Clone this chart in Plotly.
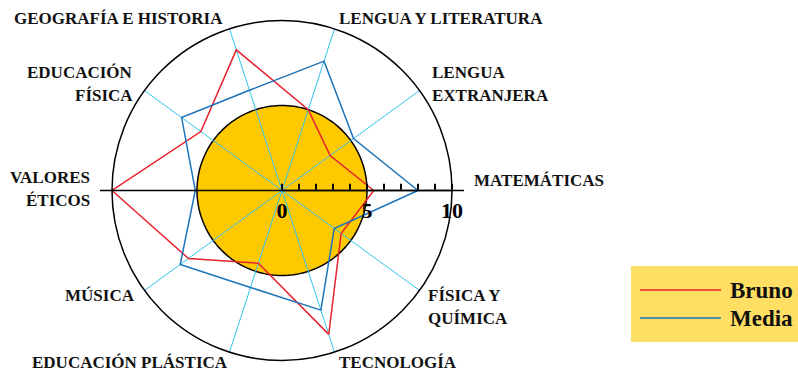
import plotly.graph_objects as go

# subjects, counterclockwise starting at the right (east)
subjects = ['MATEMÁTICAS', 'LENGUA EXTRANJERA', 'LENGUA Y LITERATURA',
            'GEOGRAFÍA E HISTORIA', 'EDUCACIÓN FÍSICA', 'VALORES ÉTICOS',
            'MÚSICA', 'EDUCACIÓN PLÁSTICA', 'TECNOLOGÍA', 'FÍSICA Y QUÍMICA']
bruno = [5.4, 3.5, 5.0, 8.7, 5.9, 10.0, 6.8, 4.5, 8.9, 4.3]
media = [8.0, 5.2, 8.0, 6.2, 7.3, 5.1, 7.4, 6.0, 7.4, 3.8]
pass_mark = 5
r_max = 10
radial_ticks = list(range(0, 11))
radial_labels = ['0', '', '', '', '', '5', '', '', '', '', '10']

W, H = 798, 374
CX, CY, R = 282, 190.5, 170
SERIF = 'Liberation Serif'
RED = '#E8232E'
BLUE = '#1C74BA'
CYAN = '#33C3EE'

angles = [i * 360 / len(subjects) for i in range(len(subjects))]


def px(x):
    return x / W


def py(y):
    return 1 - y / H


fig = go.Figure()

# yellow disc at the pass mark
circle_theta = list(range(0, 361, 2))
fig.add_trace(go.Scatterpolar(
    r=[pass_mark] * len(circle_theta), theta=circle_theta,
    mode='lines', fill='toself', fillcolor='#FFC900',
    line=dict(color='black', width=1.5), hoverinfo='skip', showlegend=False))

# spokes, drawn above the disc
spoke_r, spoke_t = [], []
for a in angles:
    spoke_r += [0, r_max, None]
    spoke_t += [a, a, None]
fig.add_trace(go.Scatterpolar(
    r=spoke_r, theta=spoke_t, mode='lines',
    line=dict(color=CYAN, width=1), hoverinfo='skip', showlegend=False))

for name, vals, col in [('Bruno', bruno, RED), ('Media', media, BLUE)]:
    fig.add_trace(go.Scatterpolar(
        r=vals + vals[:1], theta=angles + angles[:1], mode='lines',
        line=dict(color=col, width=1.5), name=name, showlegend=False,
        text=subjects + subjects[:1], hovertemplate='%{text}: %{r}<extra>' + name + '</extra>'))

fig.update_layout(
    width=W, height=H,
    margin=dict(l=0, r=0, t=0, b=0),
    paper_bgcolor='white',
    polar=dict(
        domain=dict(x=[px(CX - R), px(CX + R)], y=[py(CY + R), py(CY - R)]),
        bgcolor='white',
        radialaxis=dict(range=[0, r_max], angle=0, side='clockwise',
                        tickvals=radial_ticks, ticktext=radial_labels,
                        ticks='inside', ticklen=6, tickcolor='black', tickwidth=1.5,
                        showline=True, linecolor='black', linewidth=1.5,
                        showgrid=False, layer='above traces',
                        tickfont=dict(family=SERIF, size=22, color='black', weight='bold')),
        angularaxis=dict(rotation=0, direction='counterclockwise',
                         tickvals=angles, showticklabels=False, ticks='',
                         showgrid=False, showline=True,
                         linecolor='black', linewidth=1.5),
    ),
)

# horizontal axis line through the whole circle
fig.add_shape(type='line', xref='paper', yref='paper',
              x0=px(CX - R - 12), x1=px(CX + R + 12), y0=py(CY), y1=py(CY),
              line=dict(color='black', width=1.5))

# subject labels: (lines, x, y of first line, anchor)
label_pos = [
    (['MATEMÁTICAS'], 472, 181, 'left'),
    (['LENGUA', 'EXTRANJERA'], 430, 72, 'left'),
    (['LENGUA Y LITERATURA'], 337, 19, 'left'),
    (['GEOGRAFÍA E HISTORIA'], 225, 19, 'right'),
    (['EDUCACIÓN', 'FÍSICA'], 135, 72, 'right'),
    (['VALORES', 'ÉTICOS'], 92, 177, 'right'),
    (['MÚSICA'], 137, 295, 'right'),
    (['EDUCACIÓN PLÁSTICA'], 230, 362, 'right'),
    (['TECNOLOGÍA'], 337, 362, 'left'),
    (['FÍSICA Y', 'QUÍMICA'], 426, 295, 'left'),
]
for lines, x, y, anchor in label_pos:
    for k, line in enumerate(lines):
        fig.add_annotation(x=px(x), y=py(y + 23 * k), xref='paper', yref='paper',
                           text=line, showarrow=False, xanchor=anchor, yanchor='middle',
                           font=dict(family=SERIF, size=17, color='#111', weight='bold'))

# legend box
fig.add_shape(type='rect', xref='paper', yref='paper',
              x0=px(631), x1=px(W + 2), y0=py(342), y1=py(266),
              fillcolor='#FFDE64', line=dict(width=0), layer='below')
for k, (name, col) in enumerate([('Bruno', RED), ('Media', BLUE)]):
    yy = 290 + 28 * k
    fig.add_shape(type='line', xref='paper', yref='paper',
                  x0=px(640), x1=px(721), y0=py(yy), y1=py(yy),
                  line=dict(color=col, width=1.5))
    fig.add_annotation(x=px(728), y=py(yy), xref='paper', yref='paper',
                       text=name, showarrow=False, xanchor='left', yanchor='middle',
                       font=dict(family=SERIF, size=23, color='#111', weight='bold'))

fig.write_html('out.html', config={'displayModeBar': False},
               post_script="document.body.style.margin='0';")
